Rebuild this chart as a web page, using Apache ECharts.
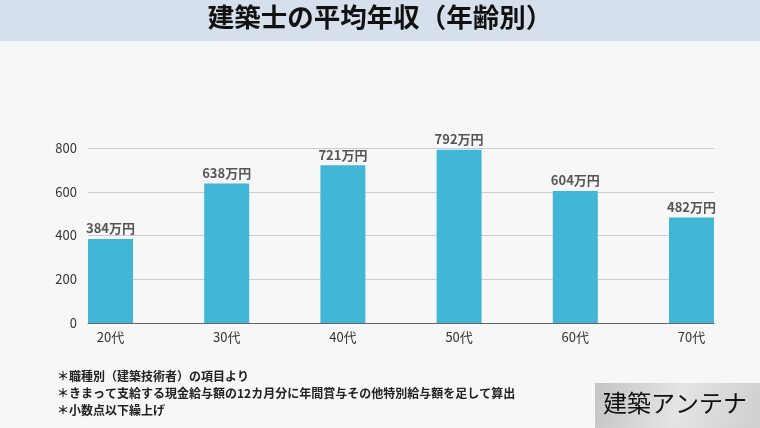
<!DOCTYPE html>
<html><head><meta charset="utf-8">
<script src="https://cdn.jsdelivr.net/npm/echarts@6/dist/echarts.min.js"></script>
<style>html,body{margin:0;padding:0;background:#f7f7f8}#c{width:760px;height:428px}</style>
</head><body><div id="c"></div>
<script>
const categories = ['20代','30代','40代','50代','60代','70代'];
const values = [384, 638, 721, 792, 604, 482];
const yTicks = [0, 200, 400, 600, 800];
const titleText = '建築士の平均年収（年齢別）';
const notes = ['＊職種別（建築技術者）の項目より','＊きまって支給する現金給与額の12カ月分に年間賞与その他特別給与額を足して算出','＊小数点以下繰上げ'];
const logoText = '建築アンテナ';
const unit = '万円';

const font = '"Noto Sans CJK JP","Noto Sans",sans-serif';
const chart = echarts.init(document.getElementById('c'));
chart.setOption({
  backgroundColor: '#f7f7f8',
  textStyle: {fontFamily: font},
  grid: [
    {left: 88, right: 46, top: 148, bottom: 105},
    {left: 52.4, right: 10.4, top: 148, bottom: 105}
  ],
  xAxis: [
    {gridIndex: 0, type: 'category', data: categories, boundaryGap: false,
     axisLine: {show: true, lineStyle: {color: '#666', width: 1}},
     axisTick: {show: false}, axisLabel: {show: false}, splitLine: {show: false}},
    {gridIndex: 1, type: 'category', data: categories,
     axisLine: {show: false}, axisTick: {show: false},
     axisLabel: {color: '#333', fontSize: 13, margin: 8, fontFamily: font}}
  ],
  yAxis: [
    {gridIndex: 0, type: 'value', min: yTicks[0], max: yTicks[yTicks.length-1], interval: 200,
     axisLine: {show: false}, axisTick: {show: false},
     axisLabel: {color: '#333', fontSize: 13, margin: 11, fontFamily: font},
     splitLine: {lineStyle: {color: '#cccccc', width: 1}}},
    {gridIndex: 1, type: 'value', min: yTicks[0], max: yTicks[yTicks.length-1], show: false, splitLine: {show: false}}
  ],
  series: [{
    type: 'bar', xAxisIndex: 1, yAxisIndex: 1, data: values, barWidth: 45,
    itemStyle: {color: '#41b6d6'},
    label: {show: true, position: 'top', distance: 4, color: '#555', fontSize: 13, fontWeight: 'bold',
            fontFamily: font, formatter: p => p.value + unit}
  }],
  graphic: [
    {type: 'rect', left: 0, top: 0, shape: {width: 760, height: 41}, style: {fill: '#d6e0ec'}, z: -1},
    {type: 'text', left: 'center', top: 4, style: {text: titleText, font: 'bold 26.5px ' + font, fill: '#111'}},
    {type: 'text', left: 57, top: 368, style: {text: notes.join('\n'), font: 'bold 12px ' + font, lineHeight: 17, fill: '#222'}},
    {type: 'rect', left: 595, top: 383, shape: {width: 165, height: 45},
     style: {fill: new echarts.graphic.LinearGradient(0, 0, 1, 1, [{offset: 0, color: '#c4c4c4'}, {offset: 0.5, color: '#e4e4e4'}, {offset: 1, color: '#cfcfcf'}])}},
    {type: 'text', left: 603, top: 391, style: {text: logoText, font: '24px ' + font, fill: '#111'}}
  ]
});
</script></body></html>
